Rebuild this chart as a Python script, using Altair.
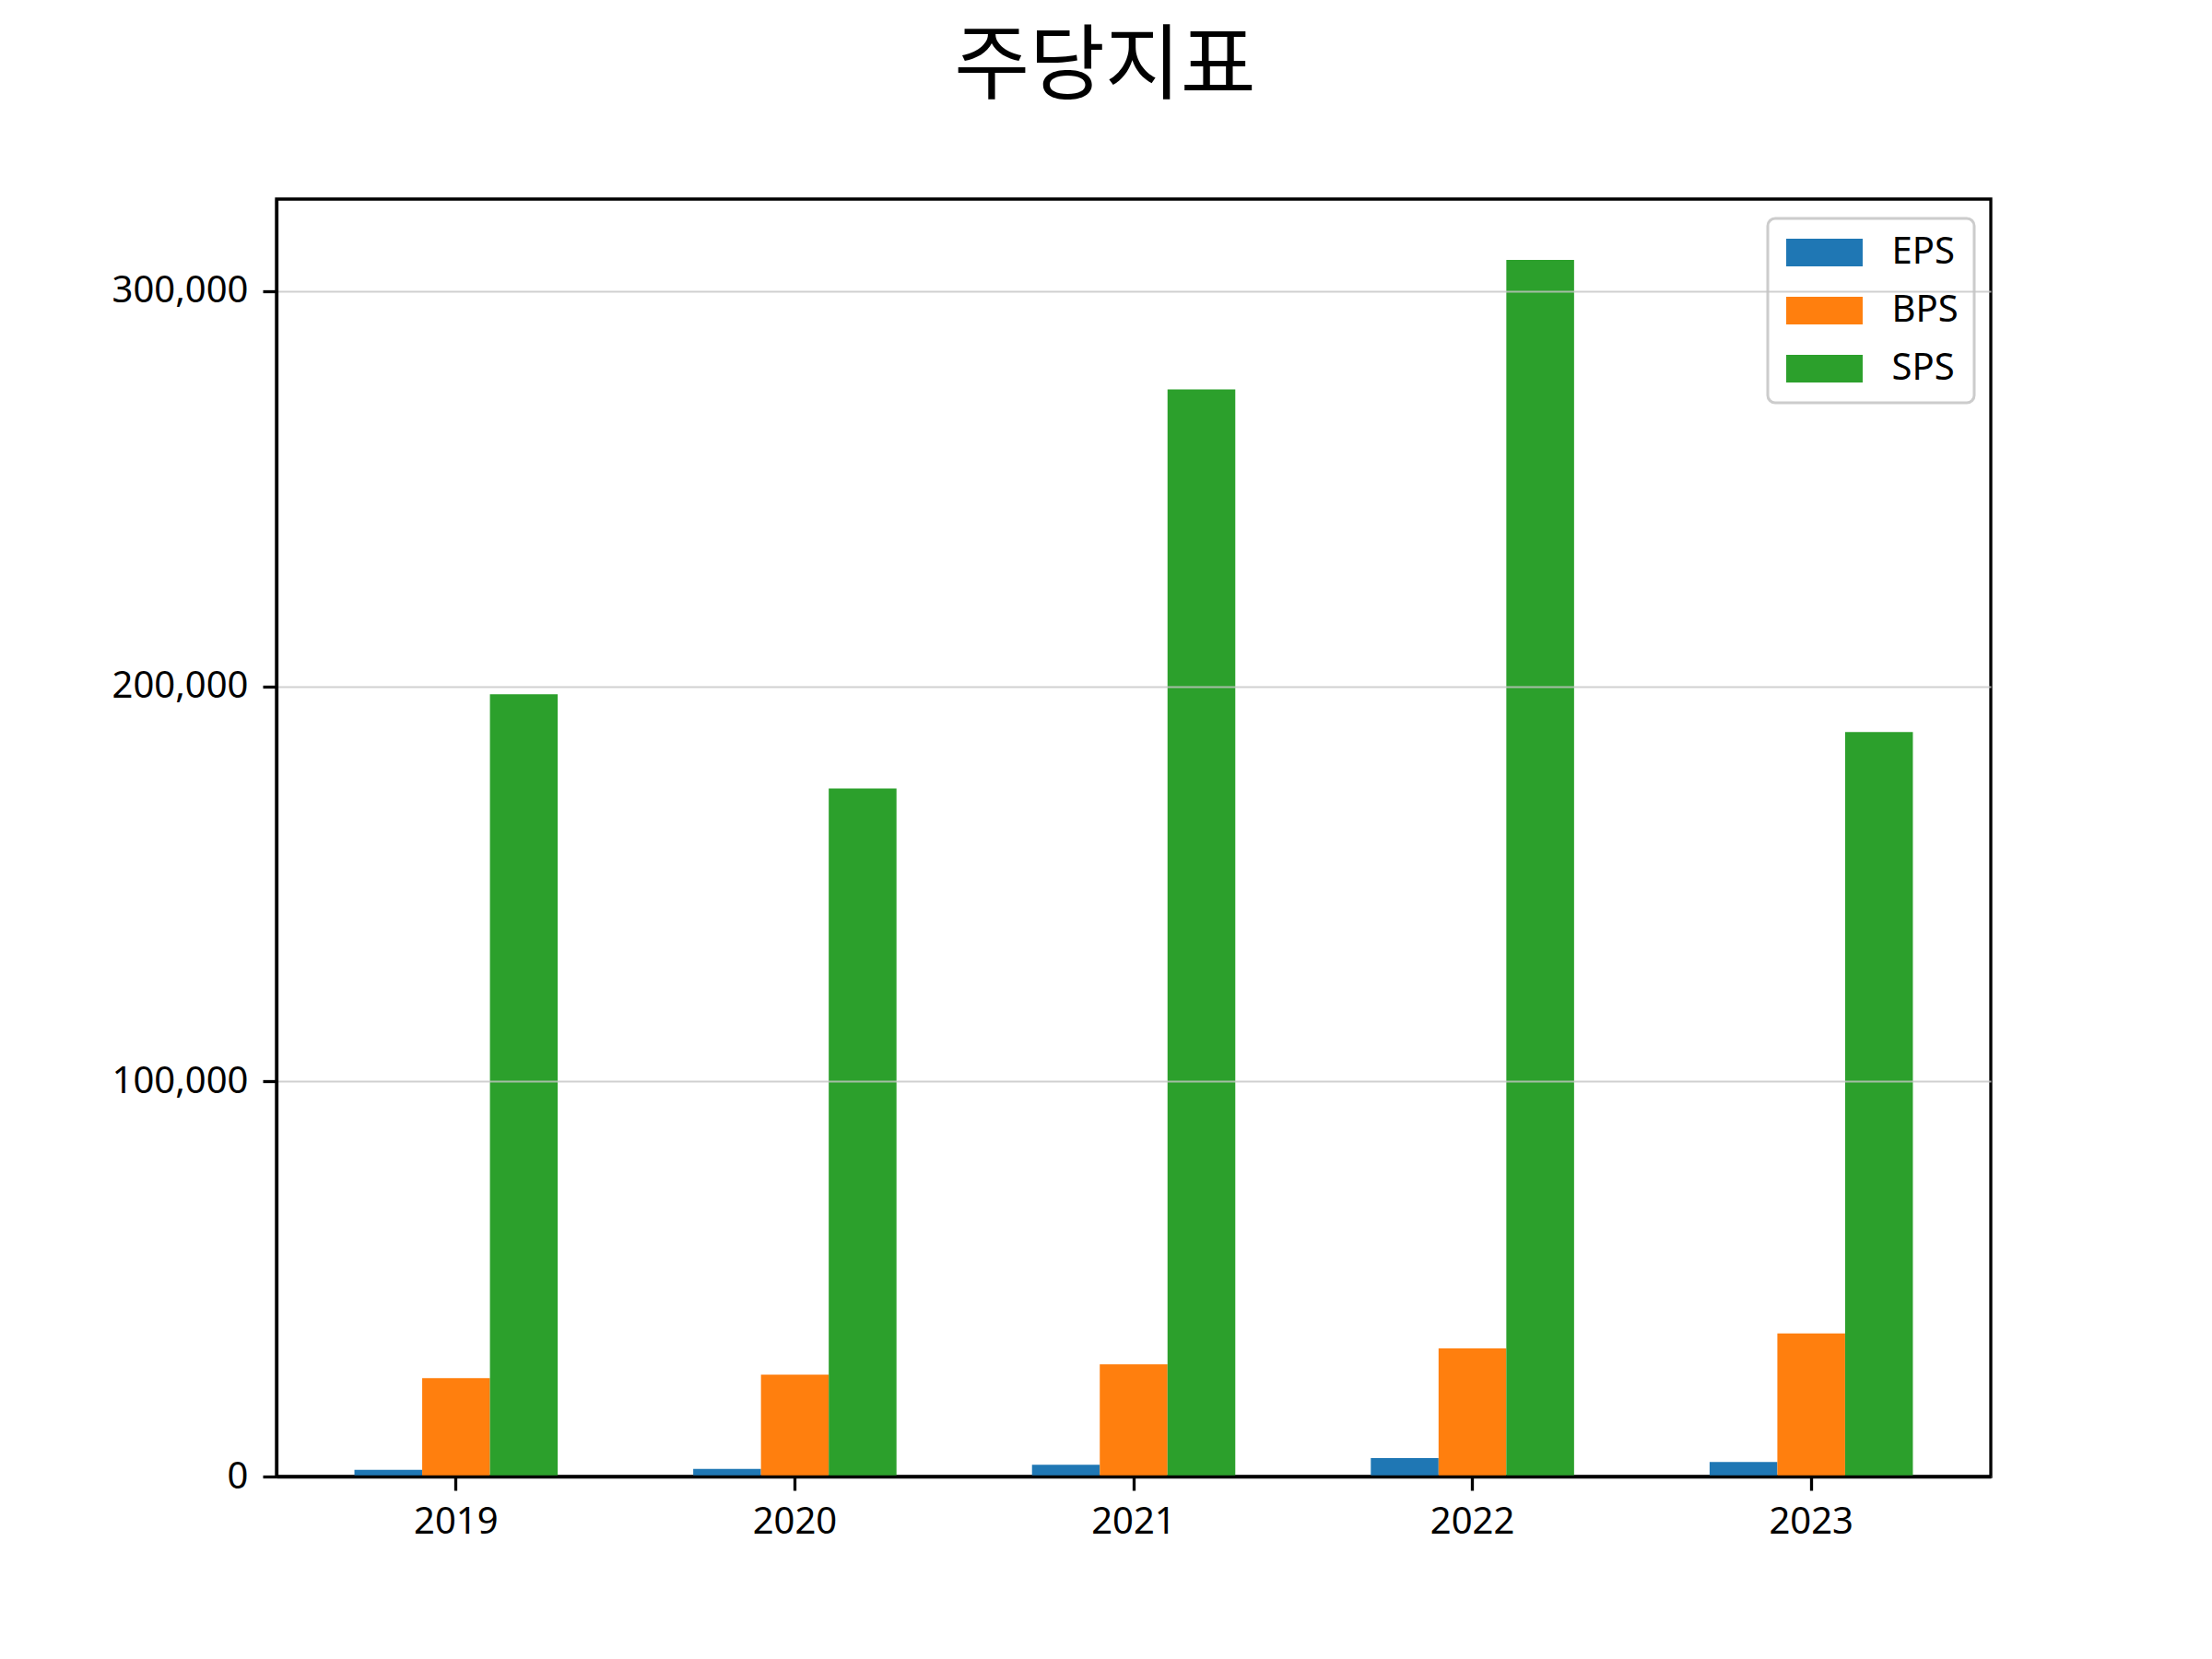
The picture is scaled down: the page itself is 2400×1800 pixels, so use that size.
import altair as alt
import pandas as pd

# ---- data ----
years = ["2019", "2020", "2021", "2022", "2023"]
series = ["EPS", "BPS", "SPS"]
eps = [1700, 1950, 3000, 4650, 3700]
bps = [24900, 25800, 28400, 32400, 36200]
sps = [198000, 174100, 275100, 307900, 188400]
colors = ["#1f77b4", "#ff7f0e", "#2ca02c"]
y_ticks = [0, 100000, 200000, 300000]
chart_title = "주당지표"

rows = []
for name, vals in zip(series, [eps, bps, sps]):
    for yr, v in zip(years, vals):
        rows.append({"year": yr, "metric": name, "value": v})
df = pd.DataFrame(rows)
ymax = max(eps + bps + sps) * 1.05

FONT = "Noto Sans"
LW = 3.3

bars = alt.Chart(df).mark_bar().encode(
    x=alt.X(
        "year:N",
        sort=years,
        scale=alt.Scale(paddingInner=0.4, paddingOuter=0.23),
        axis=alt.Axis(
            title=None, labelAngle=0, labelFont=FONT, labelFontSize=40,
            labelColor="black", tickColor="black", tickWidth=LW, tickSize=15,
            labelPadding=14, domainColor="black", domainWidth=LW, zindex=1,
        ),
    ),
    xOffset=alt.XOffset("metric:N", sort=series,
                        scale=alt.Scale(paddingInner=0, paddingOuter=0)),
    y=alt.Y(
        "value:Q",
        scale=alt.Scale(domain=[0, ymax], nice=False, zero=True),
        axis=alt.Axis(
            title=None, values=y_ticks, format=",d", labelFont=FONT,
            labelFontSize=40, labelColor="black", tickColor="black",
            tickWidth=LW, tickSize=15, labelPadding=16,
            domainColor="black", domainWidth=LW,
            grid=True, gridColor="#c4c4c4", gridWidth=2, gridOpacity=0.8,
            zindex=1,
        ),
    ),
    color=alt.Color(
        "metric:N",
        sort=series,
        scale=alt.Scale(domain=series, range=colors),
        legend=alt.Legend(
            title=None, orient="none", legendX=1618, legendY=21,
            symbolType="M-2.44,-0.88H2.44V0.88H-2.44Z", symbolSize=1156,
            symbolOffset=24.5,
            symbolStrokeWidth=0, symbolOpacity=1,
            labelFont=FONT, labelFontSize=40, labelColor="black",
            labelOffset=53, rowPadding=23, padding=17,
            strokeColor="#cccccc", cornerRadius=8,
            fillColor="rgba(255,255,255,0.8)",
        ),
    ),
)

chart = bars.properties(
    width=1860,
    height=1386,
    background="white",
    title=alt.TitleParams(
        text=chart_title, font="Noto Sans CJK KR", fontSize=89,
        fontWeight="normal", color="black", anchor="middle",
        dx=-31, offset=97,
    ),
    autosize=alt.AutoSizeParams(type="none"),
    padding={"left": 292, "top": 208, "right": 232, "bottom": 190},
).configure_view(
    stroke="black", strokeWidth=LW
).configure_legend(
    strokeWidth=3
)

chart.save("out.html", embed_options={"renderer": "svg", "actions": False})
